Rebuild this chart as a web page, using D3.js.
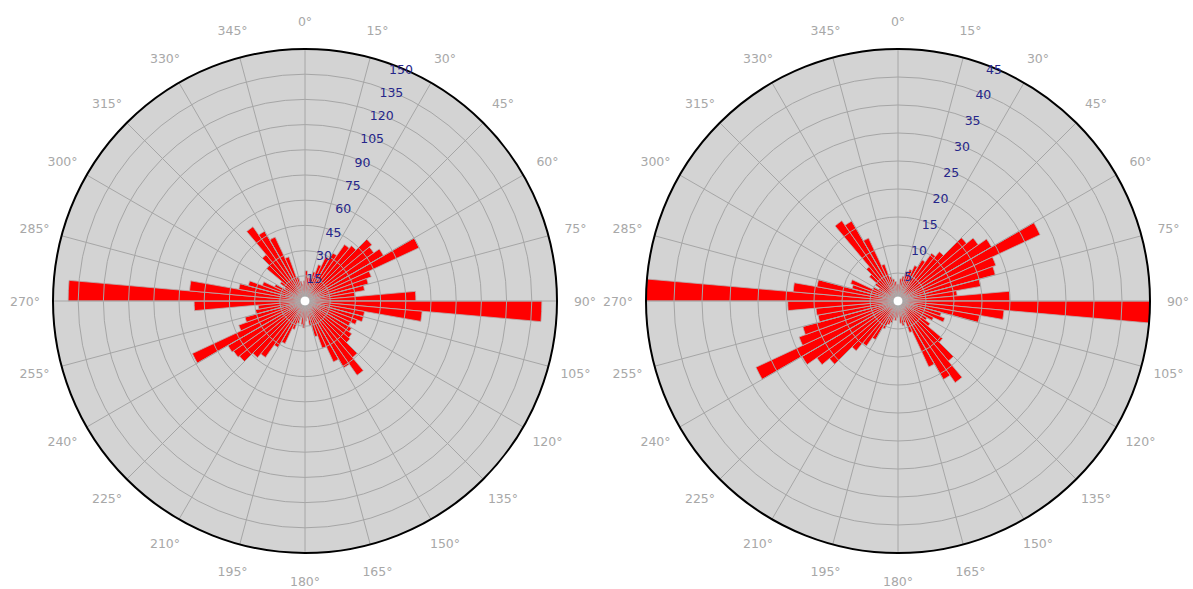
<!DOCTYPE html>
<html>
<head>
<meta charset="utf-8">
<script src="https://d3js.org/d3.v7.min.js"></script>
<style>
    body { margin: 0; background: #fff; }
    svg { display: block; }
</style>
</head>
<body>
<div id="chart"></div>
<script>
    // direction bins (start of each 5 degree sector, clockwise from north)
    var bins = [0, 5, 10, 15, 20, 25, 30, 35, 40, 45, 50, 55,
                60, 65, 70, 75, 80, 85, 90, 95, 100, 105, 110, 115,
                120, 125, 130, 135, 140, 145, 150, 155, 160, 165, 170, 175,
                180, 185, 190, 195, 200, 205, 210, 215, 220, 225, 230, 235,
                240, 245, 250, 255, 260, 265, 270, 275, 280, 285, 290, 295,
                300, 305, 310, 315, 320, 325, 330, 335, 340, 345, 350, 355];

    var leftValues = [18, 14, 14, 18, 23, 29, 33, 41, 43, 52, 50, 54,
                      75, 42, 39, 36, 30, 66, 141, 70, 36, 36, 33, 30,
                      32, 34, 35, 44, 54, 46, 40, 30, 22, 15, 10, 12,
                      16, 14, 10, 14, 18, 28, 32, 41, 44, 51, 52, 53,
                      74, 42, 37, 30, 28, 66, 141, 69, 40, 35, 27, 20,
                      14, 18, 30, 36, 54, 48, 42, 28, 15, 12, 10, 12];

    var rightValues = [3, 4, 4.5, 5.5, 6, 7, 8.5, 10.4, 11.5, 16, 17.5, 19.3,
                       28, 18.6, 18, 15, 10.6, 20, 45, 19, 14.8, 8, 8.9, 7,
                       6, 7, 10.4, 14, 17.8, 16.2, 13, 6, 4, 4.5, 4, 2.5,
                       3, 3.5, 3, 4, 4.5, 5.5, 8, 9.8, 11.6, 16, 17.7, 19.8,
                       28, 18.8, 17.6, 14.5, 14.7, 19.7, 45, 18.8, 14.7, 8.5, 9, 5,
                       4, 5, 6.7, 8, 17.5, 16.5, 12.4, 7, 4.5, 4, 3.5, 3];

    var angleTicks = [0, 15, 30, 45, 60, 75, 90, 105, 120, 135, 150, 165,
                      180, 195, 210, 225, 240, 255, 270, 285, 300, 315, 330, 345];

    var leftRadialTicks = [15, 30, 45, 60, 75, 90, 105, 120, 135, 150];
    var rightRadialTicks = [5, 10, 15, 20, 25, 30, 35, 40, 45];

    var width = 1193, height = 589;
    var radius = 252;
    var binWidth = 5;

    var svg = d3.select("#chart").append("svg")
        .attr("width", width)
        .attr("height", height);

    var angle = d3.scaleLinear().domain([0, 360]).range([0, 2 * Math.PI]);

    function drawRose(cx, cy, values, rTicks, rMax) {
        var r = d3.scaleLinear().domain([0, rMax]).range([0, radius]);
        var g = svg.append("g").attr("transform", "translate(" + cx + "," + cy + ")");

        g.append("circle").attr("r", radius).attr("fill", "#d3d3d3");

        var data = bins.map(function(b, i) { return {bin: b, v: Math.min(values[i], rMax)}; });

        var arc = d3.arc()
            .innerRadius(0)
            .outerRadius(function(d) { return r(d.v); })
            .startAngle(function(d) { return angle(d.bin); })
            .endAngle(function(d) { return angle(d.bin + binWidth); });

        g.append("g").selectAll("path")
            .data(data)
            .enter().append("path")
            .attr("d", arc)
            .attr("fill", "#ff0000")
            .attr("stroke", "#b4b4b4")
            .attr("stroke-width", 0.8);

        // grid drawn above the bars
        var grid = g.append("g").attr("fill", "none").attr("stroke", "#a6a6a6").attr("stroke-width", 1);
        grid.selectAll("circle")
            .data(rTicks.filter(function(t) { return t < rMax; }))
            .enter().append("circle")
            .attr("r", function(t) { return r(t); });
        grid.selectAll("line")
            .data(angleTicks)
            .enter().append("line")
            .attr("x1", 0).attr("y1", 0)
            .attr("x2", function(t) { return radius * Math.sin(angle(t)); })
            .attr("y2", function(t) { return -radius * Math.cos(angle(t)); });

        g.append("circle").attr("r", 5).attr("fill", "#fff").attr("stroke", "#a6a6a6").attr("stroke-width", 1);

        g.append("circle").attr("r", radius).attr("fill", "none")
            .attr("stroke", "#000").attr("stroke-width", 2);

        // angular tick labels
        g.append("g").selectAll("text")
            .data(angleTicks)
            .enter().append("text")
            .attr("x", function(t) { return (radius + 28) * Math.sin(angle(t)); })
            .attr("y", function(t) { return -(radius + 28) * Math.cos(angle(t)); })
            .attr("text-anchor", "middle")
            .attr("dominant-baseline", "central")
            .style("font-family", "DejaVu Sans, Verdana, sans-serif")
            .style("font-size", "12.5px")
            .style("fill", "#a8a8a8")
            .text(function(t) { return t + "°"; });

        // radial tick labels along the 22.5 degree ray
        var ra = angle(22.5);
        g.append("g").selectAll("text")
            .data(rTicks)
            .enter().append("text")
            .attr("x", function(t) { return (r(t) - 1) * Math.sin(ra); })
            .attr("y", function(t) { return -(r(t) - 1) * Math.cos(ra); })
            .attr("text-anchor", "middle")
            .attr("dominant-baseline", "central")
            .style("font-family", "DejaVu Sans, Verdana, sans-serif")
            .style("font-size", "12.5px")
            .style("fill", "#26268a")
            .text(function(t) { return t; });
    }

    drawRose(305, 301, leftValues, leftRadialTicks, 150);
    drawRose(898, 301, rightValues, rightRadialTicks, 45);
</script>
</body>
</html>
